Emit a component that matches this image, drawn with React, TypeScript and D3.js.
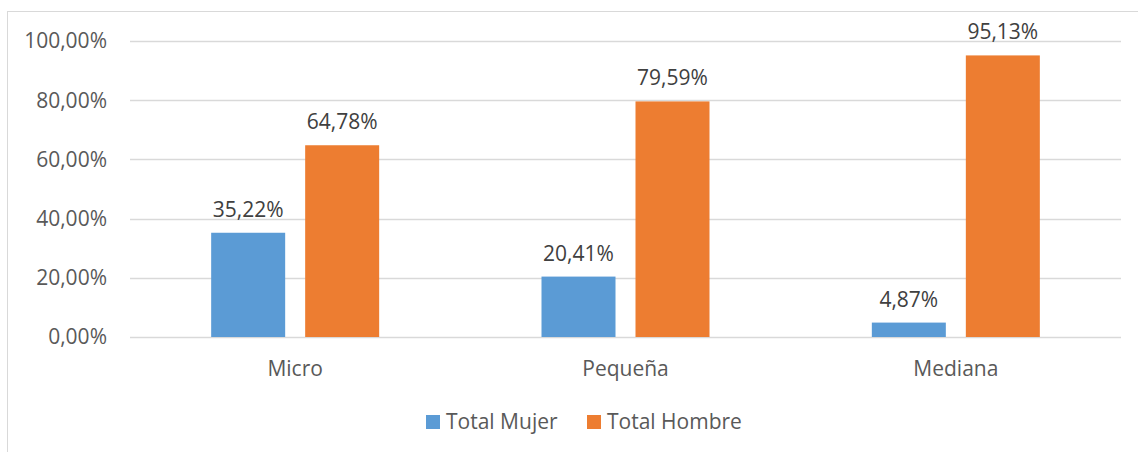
import React, { useEffect, useRef } from 'react';
import * as d3 from 'd3';

const categories = ['Micro', 'Pequeña', 'Mediana'];
const series = ['Total Mujer', 'Total Hombre'];
const mujer = [35.22, 20.41, 4.87];
const hombre = [64.78, 79.59, 95.13];
const yTicks = [0, 20, 40, 60, 80, 100];
const colors = ['#5B9BD5', '#ED7D31'];

const fmt = (v: number, d: number) => v.toFixed(d).replace('.', ',') + '%';

const App = () => {
  const ref = useRef<SVGSVGElement>(null);

  useEffect(() => {
    if (!ref.current) return;
    const svg = d3.select(ref.current);
    svg.selectAll('*').remove();

    const W = 1138, H = 452;
    const left = 130, right = 1121, top = 41, bottom = 337;
    const font = "'Open Sans', sans-serif";
    const textColor = '#595959';

    // marco exterior
    svg.append('rect')
      .attr('x', 7.5).attr('y', 11.5)
      .attr('width', W).attr('height', H)
      .attr('fill', '#fff').attr('stroke', '#D9D9D9');

    const x = d3.scaleBand().domain(categories).range([left, right]);
    const y = d3.scaleLinear().domain([0, 100]).range([bottom, top]);

    // rejilla
    svg.append('g').selectAll('line').data(yTicks).join('line')
      .attr('x1', left).attr('x2', right)
      .attr('y1', d => Math.round(y(d)) + 0.5)
      .attr('y2', d => Math.round(y(d)) + 0.5)
      .attr('stroke', '#D9D9D9').attr('stroke-width', 1.3);

    svg.append('g').selectAll('text').data(yTicks).join('text')
      .attr('x', 107).attr('y', d => y(d)).attr('dy', '0.35em')
      .attr('text-anchor', 'end')
      .style('font-family', font).style('font-size', '21px').style('fill', textColor)
      .text(d => fmt(d, 2));

    // barras
    const barW = 74, offset = 47;
    const values = [mujer, hombre];
    values.forEach((vals, s) => {
      const g = svg.append('g');
      const cx = (c: string) => x(c)! + x.bandwidth() / 2 + (s === 0 ? -offset : offset);
      g.selectAll('rect').data(categories).join('rect')
        .attr('x', c => cx(c) - barW / 2)
        .attr('y', (c, i) => y(vals[i]))
        .attr('width', barW)
        .attr('height', (c, i) => bottom - y(vals[i]))
        .attr('fill', colors[s]);
      g.selectAll('text').data(categories).join('text')
        .attr('x', c => cx(c))
        .attr('y', (c, i) => y(vals[i]) - 16)
        .attr('text-anchor', 'middle')
        .style('font-family', font).style('font-size', '21px').style('fill', '#404040')
        .text((c, i) => fmt(vals[i], 2));
    });

    // categorías
    svg.append('g').selectAll('text').data(categories).join('text')
      .attr('x', c => x(c)! + x.bandwidth() / 2)
      .attr('y', 376)
      .attr('text-anchor', 'middle')
      .style('font-family', font).style('font-size', '21px').style('fill', textColor)
      .text(c => c);

    // leyenda
    const legendX = [426, 587];
    series.forEach((s, i) => {
      svg.append('rect')
        .attr('x', legendX[i]).attr('y', 415)
        .attr('width', 14).attr('height', 14)
        .attr('fill', colors[i]);
      svg.append('text')
        .attr('x', legendX[i] + 20).attr('y', 422).attr('dy', '0.35em')
        .style('font-family', font).style('font-size', '21px').style('fill', textColor)
        .text(s);
    });
  }, []);

  return (
    <svg
      ref={ref}
      width={1138}
      height={452}
      style={{ position: 'absolute', left: 0, top: 0, display: 'block' }}
    />
  );
};

export default App;
